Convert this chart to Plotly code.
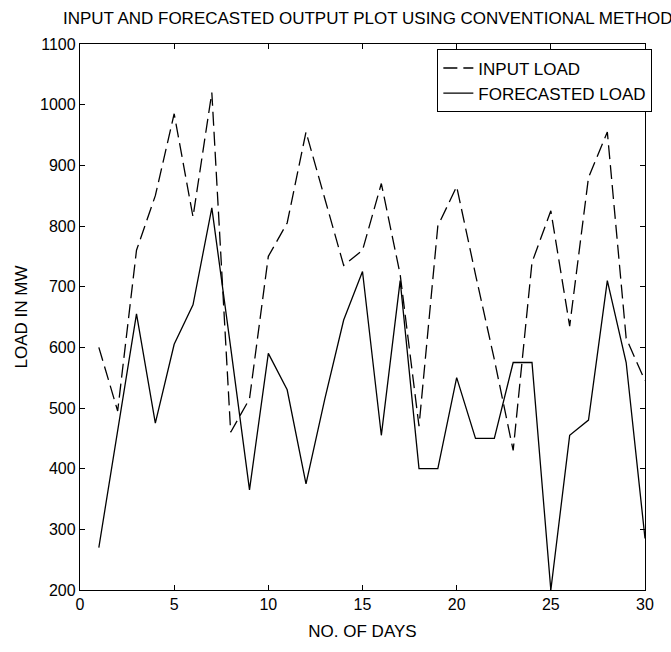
import plotly.graph_objects as go

# Daily load values (MW) over a 30-day window
days = list(range(1, 31))
input_load = [600, 495, 760, 850, 985, 815, 1020, 460, 515, 750,
              805, 955, 845, 735, 760, 870, 720, 470, 800, 865,
              720, 580, 430, 740, 825, 635, 880, 955, 615, 545]
forecasted_load = [270, 465, 655, 475, 605, 670, 830, 600, 365, 590,
                   530, 375, 515, 645, 725, 455, 710, 400, 400, 550,
                   450, 450, 575, 575, 200, 455, 480, 710, 575, 285]

x_ticks = [0, 5, 10, 15, 20, 25, 30]
y_ticks = [200, 300, 400, 500, 600, 700, 800, 900, 1000, 1100]

FONT = "Liberation Sans Narrow, Arial Narrow, Liberation Sans, Arial, sans-serif"

fig = go.Figure()
fig.add_trace(go.Scatter(
    x=days, y=input_load, mode="lines", name="INPUT LOAD",
    line=dict(color="black", width=1.3, dash="14px,6px"),
))
fig.add_trace(go.Scatter(
    x=days, y=forecasted_load, mode="lines", name="FORECASTED LOAD",
    line=dict(color="black", width=1.3),
))

axis_common = dict(
    showline=True, linecolor="black", linewidth=1.3, mirror="allticks",
    ticks="inside", ticklen=5, tickcolor="black", tickwidth=1,
    showgrid=False, zeroline=False,
    tickfont=dict(family=FONT, size=16, color="black"),
)

fig.update_layout(
    width=671, height=652,
    margin=dict(l=80, r=26, t=44, b=62),
    paper_bgcolor="white", plot_bgcolor="white",
    title=dict(
        text="INPUT AND FORECASTED OUTPUT PLOT USING CONVENTIONAL METHOD",
        x=0.548, xanchor="center", y=0.972, yanchor="middle",
        font=dict(family=FONT, size=17, color="black"),
    ),
    xaxis=dict(range=[0, 30], tickvals=x_ticks,
               title=dict(text="NO. OF DAYS", standoff=12,
                          font=dict(family=FONT, size=17, color="black")),
               **axis_common),
    yaxis=dict(range=[200, 1100], tickvals=y_ticks,
               title=dict(text="LOAD IN MW", standoff=8,
                          font=dict(family=FONT, size=17, color="black")),
               **axis_common),
    legend=dict(
        x=1.013, xanchor="right", y=0.99, yanchor="top",
        bgcolor="white", bordercolor="black", borderwidth=1,
        font=dict(family=FONT, size=17, color="black"),
        itemwidth=30, tracegroupgap=0,
    ),
    showlegend=True,
)

fig.write_html("out.html")
